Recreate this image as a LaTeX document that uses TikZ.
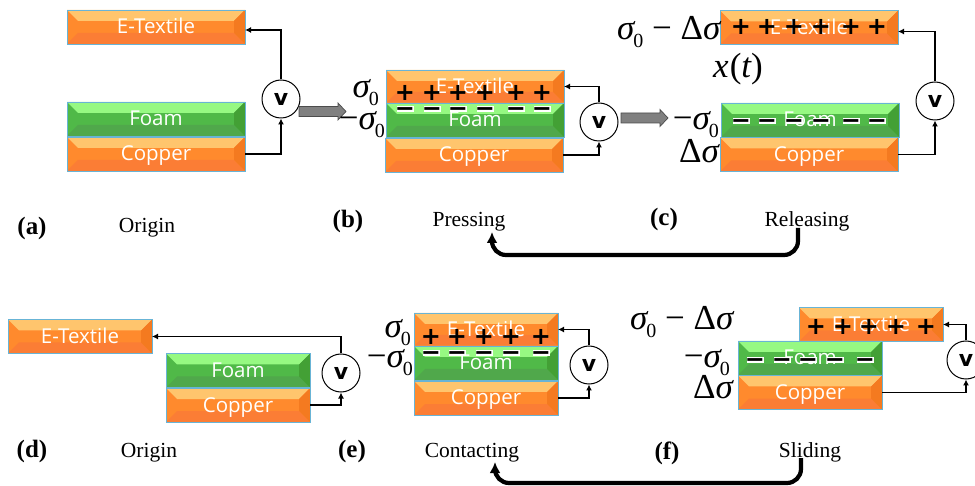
\documentclass[tikz,border=0pt]{standalone}
\usepackage{fontspec}
\usetikzlibrary{arrows.meta,calc}
\setmainfont{Liberation Serif}
\newfontfamily\platefamily{Open Sans}
\newfontfamily\chargefamily{DejaVu Sans}
\definecolor{PlateEdge}{RGB}{104,180,214}
\definecolor{OrangeTop}{RGB}{255,197,109}
\definecolor{OrangeMid}{RGB}{255,138,45}
\definecolor{OrangeLow}{RGB}{251,125,53}
\definecolor{OrangeSide}{RGB}{244,122,32}
\definecolor{FoamTop}{RGB}{150,249,130}
\definecolor{FoamMid}{RGB}{80,185,72}
\definecolor{FoamLow}{RGB}{80,168,75}
\definecolor{FoamSide}{RGB}{67,160,53}
\definecolor{BlockGray}{RGB}{128,128,128}
\newcommand{\sigsym}{{\itshape σ}}
\newcommand{\sigzero}{\sigsym\kern-1pt\raisebox{-8pt}{\fontsize{20}{20}\selectfont 0}}
\tikzset{
  plate/.style n args={4}{draw=PlateEdge, line width=0.9pt, fill=#2, inner sep=0pt, outer sep=0pt,
    text=white, text height=17pt, text depth=3pt, font=\platefamily\fontsize{20.5}{20.5}\selectfont,
    path picture={
      \path (path picture bounding box.north west) coordinate (pnw)
            (path picture bounding box.north east) coordinate (pne)
            (path picture bounding box.south east) coordinate (pse)
            (path picture bounding box.south west) coordinate (psw);
      \fill[#1] (pnw) -- (pne) -- ($(pne)+(-11,11)$) -- ($(pnw)+(11,11)$) -- cycle;
      \fill[#3] (psw) -- (pse) -- ($(pse)+(-11,-11)$) -- ($(psw)+(11,-11)$) -- cycle;
      \fill[#4] (pne) -- (pse) -- ($(pse)+(-11,-11)$) -- ($(pne)+(-11,11)$) -- cycle;
    }},
  copperplate/.style={plate={OrangeTop}{OrangeMid}{OrangeLow}{OrangeSide}},
  foamplate/.style={plate={FoamTop}{FoamMid}{FoamLow}{FoamSide}},
  wideplate/.style={minimum width=178pt, minimum height=34pt},
  slimplate/.style={minimum width=144pt, minimum height=34pt},
  voltmeter/.style={circle, draw, fill=white, line width=1pt, minimum size=38pt, inner sep=0pt,
    font=\chargefamily\bfseries\fontsize{22}{22}\selectfont},
  wire/.style={line width=1.2pt, -{Latex[length=6pt,width=6pt]}},
  block/.style={draw=black!70, fill=BlockGray, line width=0.7pt},
  charge/.style={inner sep=0pt, text height=15pt, text depth=0pt,
    font=\chargefamily\bfseries\fontsize{24}{24}\selectfont},
  halo/.style={fill=white},
  sigmalabel/.style={inner sep=0pt, font=\fontsize{35}{35}\selectfont},
  caption/.style={inner sep=0pt, anchor=base, font=\fontsize{21.5}{21.5}\selectfont},
  panelmark/.style={inner sep=0pt, anchor=base, font=\bfseries\fontsize{25}{25}\selectfont},
  loopback/.style={line width=4.2pt, rounded corners=14pt, -{Latex[length=11pt,width=11pt]}}
}

\begin{document}
\begin{tikzpicture}[x=1pt,y=-1pt]
\useasboundingbox (0,0) rectangle (975,486);

% panel a
\node[copperplate, wideplate] (etextA) at (156,27) {E-Textile};
\node[copperplate, wideplate] (copperA) at (156,154) {Copper};
\node[foamplate, wideplate] (foamA) at (156,119) {Foam};
\node[voltmeter] (voltA) at (281,99) {v};
\draw[wire] (voltA.north) |- ([yshift=-3pt]etextA.east);
\draw[wire] (copperA.east) -| (voltA.south);

% block arrows between panels
\foreach \x/\y in {299/111.5,621/118}
  \draw[block] (\x,\y-5) -- (\x+39,\y-5) -- (\x+39,\y-8.5) -- (\x+47,\y) -- (\x+39,\y+8.5)
    -- (\x+39,\y+5) -- (\x,\y+5) -- cycle;

% panel b
\node[copperplate, wideplate, minimum height=33pt] (etextB) at (475,86.5) {E-Textile};
\node[copperplate, wideplate] (copperB) at (474,155) {Copper};
\node[foamplate, wideplate] (foamB) at (475,120) {Foam};
\node[voltmeter] (voltB) at (599,122) {v};
\draw[wire] (voltB.north) |- (etextB.east);
\draw[wire] (copperB.east) -| (voltB.south);
\foreach \x in {405,432,458,485,516,542} {
  \fill[halo] (\x-8.5,109-2.6) rectangle (\x+8.5,109+2.6);
  \node[charge] at (\x,93) {+};
  \node[charge] at (\x,109) {−};
}
\node[sigmalabel, anchor=base east] (sigB) at (379,98) {\sigzero};
\node[sigmalabel, anchor=base east] (negB) at (385,130) {−\sigzero};

% panel c
\node[copperplate, wideplate] (etextC) at (809,27.5) {E-Textile};
\node[copperplate, wideplate] (copperC) at (809,154.5) {Copper};
\node[foamplate, wideplate] (foamC) at (810,120) {Foam};
\node[voltmeter] (voltC) at (935,101) {v};
\draw[wire] (voltC.north) |- ([yshift=-4pt]etextC.east);
\draw[wire] (copperC.east) -| (voltC.south);
\foreach \x in {741,767,794,821,851,877} {
  \fill[halo] (\x-8.5,121-2.6) rectangle (\x+8.5,121+2.6);
  \node[charge] at (\x,27) {+};
  \node[charge] at (\x,121) {−};
}
\node[sigmalabel, anchor=base west] (sigC) at (617,40) {\sigzero\ − Δ\sigsym};
\node[sigmalabel, anchor=base] (gapC) at (738,78) {\itshape x\kern1pt{\upshape(}t{\upshape)}};
\node[sigmalabel, anchor=base east] (negC) at (719,130) {−\sigzero};
\node[sigmalabel, anchor=base east] (delC) at (719,163) {Δ\sigsym};

% panel d
\node[copperplate, slimplate] (etextD) at (80,336.5) {E-Textile};
\node[copperplate, slimplate] (copperD) at (238,405) {Copper};
\node[foamplate, slimplate] (foamD) at (238,370.5) {Foam};
\node[voltmeter] (voltD) at (341,373) {v};
\draw[wire] (voltD.north) |- (etextD.east);
\draw[wire] (copperD.east) -| (voltD.south);

% panel e
\node[copperplate, slimplate, minimum height=33pt] (etextE) at (486,329.5) {E-Textile};
\node[copperplate, slimplate] (copperE) at (486,398) {Copper};
\node[foamplate, slimplate] (foamE) at (486,363) {Foam};
\node[voltmeter] (voltE) at (589,365) {v};
\draw[wire] (voltE.north) |- (etextE.east);
\draw[wire] (copperE.east) -| (voltE.south);
\foreach \x in {431,457,484,511,541} {
  \fill[halo] (\x-8.5,353-2.6) rectangle (\x+8.5,353+2.6);
  \node[charge] at (\x,337) {+};
  \node[charge] at (\x,353) {−};
}
\node[sigmalabel, anchor=base east] (sigE) at (411,338) {\sigzero};
\node[sigmalabel, anchor=base east] (negE) at (413,368) {−\sigzero};

% panel f
\node[copperplate, slimplate] (etextF) at (871,324.5) {E-Textile};
\node[copperplate, slimplate] (copperF) at (810,392.5) {Copper};
\node[foamplate, slimplate] (foamF) at (810,358) {Foam};
\node[voltmeter] (voltF) at (966,360) {v};
\draw[wire] (voltF.north) |- (etextF.east);
\draw[wire] (copperF.east) -| (voltF.south);
\foreach \x in {816,843,869,896,926} \node[charge] at (\x,327) {+};
\foreach \x in {755,782,808,835,865} {
  \fill[halo] (\x-8.5,360-2.6) rectangle (\x+8.5,360+2.6);
  \node[charge] at (\x,360) {−};
}
\node[sigmalabel, anchor=base west] (sigF) at (630,330) {\sigzero\ − Δ\sigsym};
\node[sigmalabel, anchor=base east] (negF) at (730,368) {−\sigzero};
\node[sigmalabel, anchor=base east] (delF) at (733,399) {Δ\sigsym};

% captions
\node[panelmark] (markA) at (32,235) {(a)};
\node[panelmark] (markB) at (348,228) {(b)};
\node[panelmark] (markC) at (664,226) {(c)};
\node[panelmark] (markD) at (32,457) {(d)};
\node[panelmark] (markE) at (352,457) {(e)};
\node[panelmark] (markF) at (667,459) {(f)};
\node[caption] (originA) at (147,233) {Origin};
\node[caption] (pressing) at (469,227) {Pressing};
\node[caption] (releasing) at (807,227) {Releasing};
\node[caption] (originD) at (149,457) {Origin};
\node[caption] (contacting) at (472,457) {Contacting};
\node[caption] (sliding) at (810,457) {Sliding};

\coordinate (pressIn) at (492,232);
\coordinate (releaseOut) at (798,228);
\coordinate (contactIn) at (495,462);
\coordinate (slideOut) at (801,458);
\draw[loopback] (releaseOut) -- ++(0,27) -| (pressIn);
\draw[loopback] (slideOut) -- ++(0,25) -| (contactIn);
\end{tikzpicture}
\end{document}
